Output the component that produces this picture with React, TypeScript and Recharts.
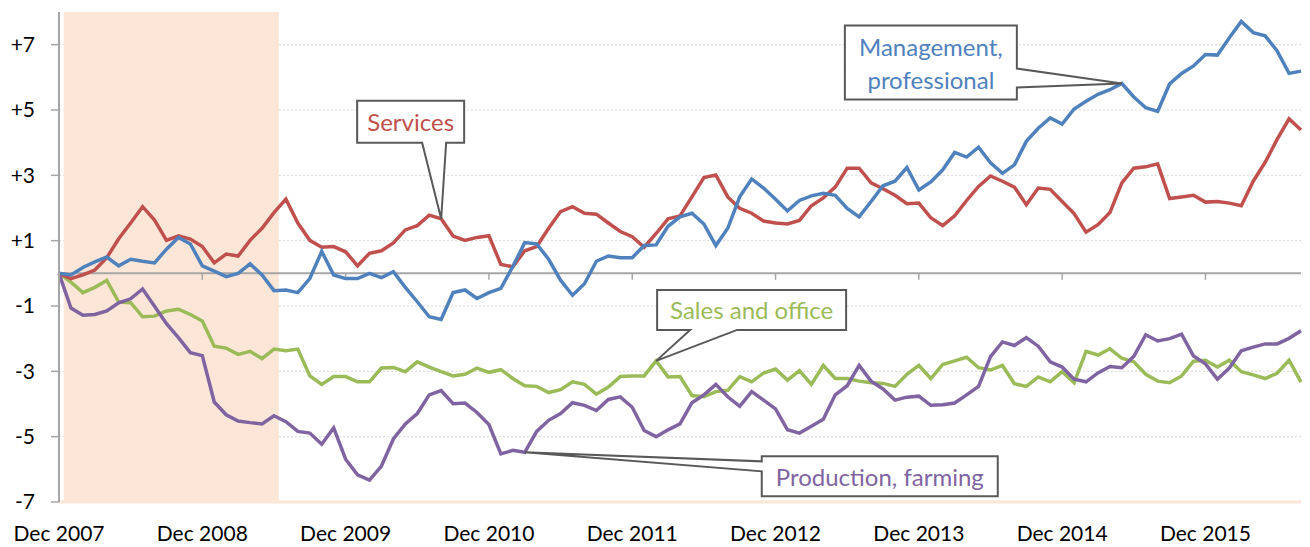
import React from 'react';
import {
  LineChart,
  Line,
  XAxis,
  YAxis,
  CartesianGrid,
  ReferenceArea,
  ReferenceLine,
  ReferenceDot,
} from 'recharts';

// Months since Dec 2007 (0 = Dec 2007) used for axis ticks
const tickMonths = [0, 12, 24, 36, 48, 60, 72, 84, 96];
const tickLabels = ['Dec 2007', 'Dec 2008', 'Dec 2009', 'Dec 2010', 'Dec 2011', 'Dec 2012', 'Dec 2013', 'Dec 2014', 'Dec 2015'];
const yTicks = [-7, -5, -3, -1, 1, 3, 5, 7];
const recessionStart = 0.4;
const recessionEnd = 18.4;

const management = [
  0, -0.05, 0.18, 0.35, 0.5, 0.23, 0.43, 0.37, 0.32, 0.74, 1.1, 0.9,
  0.23, 0.07, -0.1, 0.0, 0.29, -0.05, -0.53, -0.51, -0.59, -0.16, 0.67, -0.05,
  -0.16, -0.16, 0.0, -0.13, 0.05, -0.43, -0.87, -1.33, -1.41, -0.59, -0.51, -0.77,
  -0.59, -0.46, 0.21, 0.94, 0.9, 0.43, -0.21, -0.67, -0.32, 0.37, 0.53, 0.48,
  0.48, 0.85, 0.87, 1.44, 1.73, 1.84, 1.51, 0.85, 1.38, 2.34, 2.89, 2.61,
  2.27, 1.91, 2.23, 2.37, 2.45, 2.39, 1.99, 1.73, 2.2, 2.68, 2.82, 3.24,
  2.55, 2.8, 3.17, 3.7, 3.56, 3.86, 3.38, 3.06, 3.32, 4.04, 4.44, 4.76,
  4.57, 5.03, 5.27, 5.48, 5.62, 5.81, 5.4, 5.07, 4.96, 5.8, 6.12, 6.35,
  6.7, 6.68, 7.21, 7.71, 7.37, 7.27, 6.81, 6.12, 6.19,
];

const services = [
  0, -0.16, -0.05, 0.1, 0.48, 1.06, 1.54, 2.04, 1.63, 1.01, 1.15, 1.05,
  0.82, 0.32, 0.59, 0.53, 1.01, 1.38, 1.86, 2.27, 1.54, 1.01, 0.8, 0.82,
  0.66, 0.23, 0.61, 0.69, 0.93, 1.33, 1.46, 1.78, 1.67, 1.14, 1.01, 1.1,
  1.15, 0.27, 0.2, 0.69, 0.82, 1.38, 1.89, 2.04, 1.84, 1.81, 1.54, 1.28,
  1.12, 0.8, 1.22, 1.67, 1.76, 2.34, 2.93, 3.01, 2.34, 1.99, 1.84, 1.6,
  1.54, 1.51, 1.62, 2.07, 2.31, 2.64, 3.22, 3.22, 2.77, 2.59, 2.39, 2.13,
  2.15, 1.7, 1.46, 1.76, 2.23, 2.66, 2.98, 2.82, 2.64, 2.1, 2.61, 2.57,
  2.2, 1.83, 1.26, 1.49, 1.86, 2.77, 3.22, 3.26, 3.35, 2.29, 2.34, 2.39,
  2.18, 2.2, 2.15, 2.07, 2.82, 3.4, 4.1, 4.73, 4.39,
];

const sales = [
  0, -0.27, -0.59, -0.43, -0.22, -0.88, -0.9, -1.33, -1.31, -1.15, -1.1, -1.26,
  -1.46, -2.23, -2.29, -2.48, -2.39, -2.61, -2.32, -2.37, -2.32, -3.14, -3.4, -3.16,
  -3.16, -3.32, -3.32, -2.9, -2.88, -3.01, -2.71, -2.87, -3.01, -3.14, -3.09, -2.9,
  -3.03, -2.95, -3.22, -3.44, -3.46, -3.65, -3.56, -3.32, -3.4, -3.7, -3.48, -3.16,
  -3.14, -3.14, -2.68, -3.17, -3.16, -3.74, -3.78, -3.62, -3.58, -3.16, -3.32, -3.05,
  -2.93, -3.27, -2.98, -3.4, -2.82, -3.22, -3.22, -3.3, -3.35, -3.37, -3.46, -3.09,
  -2.82, -3.22, -2.79, -2.68, -2.57, -2.89, -2.96, -2.82, -3.38, -3.46, -3.17, -3.32,
  -3.01, -3.35, -2.39, -2.5, -2.31, -2.6, -2.71, -3.09, -3.3, -3.35, -3.14, -2.69,
  -2.66, -2.87, -2.66, -3.01, -3.11, -3.22, -3.06, -2.66, -3.33,
];

const production = [
  0, -1.06, -1.28, -1.26, -1.15, -0.9, -0.78, -0.48, -1.01, -1.54, -1.97, -2.43,
  -2.52, -3.94, -4.33, -4.52, -4.57, -4.61, -4.36, -4.54, -4.84, -4.89, -5.23, -4.73,
  -5.69, -6.17, -6.33, -5.9, -5.07, -4.61, -4.29, -3.72, -3.59, -3.99, -3.97, -4.26,
  -4.63, -5.53, -5.42, -5.48, -4.84, -4.5, -4.29, -3.96, -4.04, -4.2, -3.86, -3.78,
  -4.1, -4.81, -5.0, -4.79, -4.61, -3.96, -3.72, -3.4, -3.78, -4.07, -3.62, -3.88,
  -4.15, -4.79, -4.89, -4.68, -4.47, -3.72, -3.44, -2.82, -3.3, -3.54, -3.88, -3.79,
  -3.76, -4.04, -4.02, -3.97, -3.72, -3.46, -2.55, -2.1, -2.21, -1.97, -2.23, -2.71,
  -2.87, -3.24, -3.32, -3.05, -2.85, -2.89, -2.54, -1.88, -2.07, -2.0, -1.86, -2.53,
  -2.77, -3.24, -2.9, -2.37, -2.26, -2.16, -2.16, -1.99, -1.76,
];

const data = management.map((v, i) => ({
  m: i,
  management: v,
  services: services[i],
  sales: sales[i],
  production: production[i],
}));

const COLORS = {
  management: '#4F81BD',
  services: '#C0504D',
  sales: '#9BBB59',
  production: '#8064A2',
};

const FONT = 'Lato, "Open Sans", sans-serif';
const AXIS_GRAY = '#A6A6A6';

type Box = {
  l: number;
  r: number;
  t: number;
  b: number;
  side: 'bottom' | 'right' | 'left';
  w1: number;
  w2: number;
  lines: string[];
  color: string;
};

function calloutPath(bx: Box) {
  const { l, r, t, b, side, w1, w2 } = bx;
  if (side === 'bottom') return `M${l},${t}H${r}V${b}H${w2}L0,0L${w1},${b}H${l}Z`;
  if (side === 'right') return `M${l},${t}H${r}V${w1}L0,0L${r},${w2}V${b}H${l}Z`;
  return `M${l},${t}H${r}V${b}H${l}V${w2}L0,0L${l},${w1}Z`;
}

const makeCallout = (bx: Box) => (props: any) => {
  const { cx, cy } = props;
  const mx = (bx.l + bx.r) / 2;
  const my = (bx.t + bx.b) / 2;
  const n = bx.lines.length;
  return (
    <g transform={`translate(${cx},${cy})`}>
      <path d={calloutPath(bx)} fill="#ffffff" stroke="#595959" strokeWidth={2} strokeLinejoin="miter" />
      {bx.lines.map((s, i) => (
        <text
          key={i}
          x={mx}
          y={my + (i - (n - 1) / 2) * 33}
          textAnchor="middle"
          dominantBaseline="central"
          fontFamily={FONT}
          fontSize={24}
          fill={bx.color}
        >
          {s}
        </text>
      ))}
    </g>
  );
};

const servicesBox: Box = { l: -84, r: 23, t: -118, b: -76, side: 'bottom', w1: -19, w2: 5, lines: ['Services'], color: COLORS.services };
const managementBox: Box = { l: -277, r: -105, t: -58, b: 16, side: 'right', w1: -15, w2: 4, lines: ['Management,', 'professional'], color: COLORS.management };
const salesBox: Box = { l: 1, r: 190, t: -71, b: -31, side: 'bottom', w1: 34, w2: 81, lines: ['Sales and office'], color: COLORS.sales };
const productionBox: Box = { l: 237, r: 473, t: 4, b: 44, side: 'left', w1: 9, w2: 19, lines: ['Production, farming'], color: COLORS.production };

const fmtY = (v: number) => (v > 0 ? `+${v}` : `${v}`);
const fmtX = (v: number) => tickLabels[tickMonths.indexOf(v)] ?? '';

export default function App() {
  return (
    <div style={{ position: 'absolute', left: 0, top: 0, width: 1310, height: 547, background: '#fff', fontFamily: FONT }}>
      <LineChart width={1310} height={547} data={data} margin={{ top: 12, right: 9, bottom: 0, left: 0 }}>
        <CartesianGrid vertical={false} horizontalValues={yTicks} stroke="#D9D9D9" strokeDasharray="2 2" />
        <ReferenceArea x1={recessionStart} x2={recessionEnd} y1={-7} y2={8} fill="#FCE6D8" fillOpacity={1} stroke="none" ifOverflow="visible" />
        <ReferenceLine y={-7} stroke="#FCE6D8" strokeWidth={3} />
        <XAxis
          dataKey="m"
          type="number"
          domain={[0, 104]}
          ticks={tickMonths}
          tickFormatter={fmtX}
          axisLine={false}
          tickLine={false}
          tickSize={6}
          tickMargin={18}
          height={45}
          interval={0}
          tick={{ fontSize: 21, fill: '#000', fontFamily: FONT }}
        />
        <YAxis
          type="number"
          domain={[-7, 8]}
          ticks={yTicks}
          tickFormatter={fmtY}
          width={59}
          axisLine={{ stroke: AXIS_GRAY, strokeWidth: 2 }}
          tickLine={{ stroke: AXIS_GRAY, strokeWidth: 1.5 }}
          tickSize={8}
          tickMargin={16}
          interval={0}
          tick={{ fontSize: 21, fill: '#000', fontFamily: FONT }}
        />
        <ReferenceLine y={0} stroke={AXIS_GRAY} strokeWidth={2} />
        {tickMonths.slice(1).map((t) => (
          <ReferenceLine key={t} segment={[{ x: t, y: 0 }, { x: t, y: -0.2 }]} stroke={AXIS_GRAY} strokeWidth={1.5} />
        ))}
        <Line type="linear" dataKey="sales" stroke={COLORS.sales} strokeWidth={3.5} dot={false} isAnimationActive={false} />
        <Line type="linear" dataKey="production" stroke={COLORS.production} strokeWidth={3.5} dot={false} isAnimationActive={false} />
        <Line type="linear" dataKey="services" stroke={COLORS.services} strokeWidth={3.5} dot={false} isAnimationActive={false} />
        <Line type="linear" dataKey="management" stroke={COLORS.management} strokeWidth={3.5} dot={false} isAnimationActive={false} />
        <ReferenceDot x={32} y={services[32]} ifOverflow="visible" shape={makeCallout(servicesBox)} />
        <ReferenceDot x={89} y={management[89]} ifOverflow="visible" shape={makeCallout(managementBox)} />
        <ReferenceDot x={50} y={sales[50]} ifOverflow="visible" shape={makeCallout(salesBox)} />
        <ReferenceDot x={39} y={production[39]} ifOverflow="visible" shape={makeCallout(productionBox)} />
      </LineChart>
    </div>
  );
}
